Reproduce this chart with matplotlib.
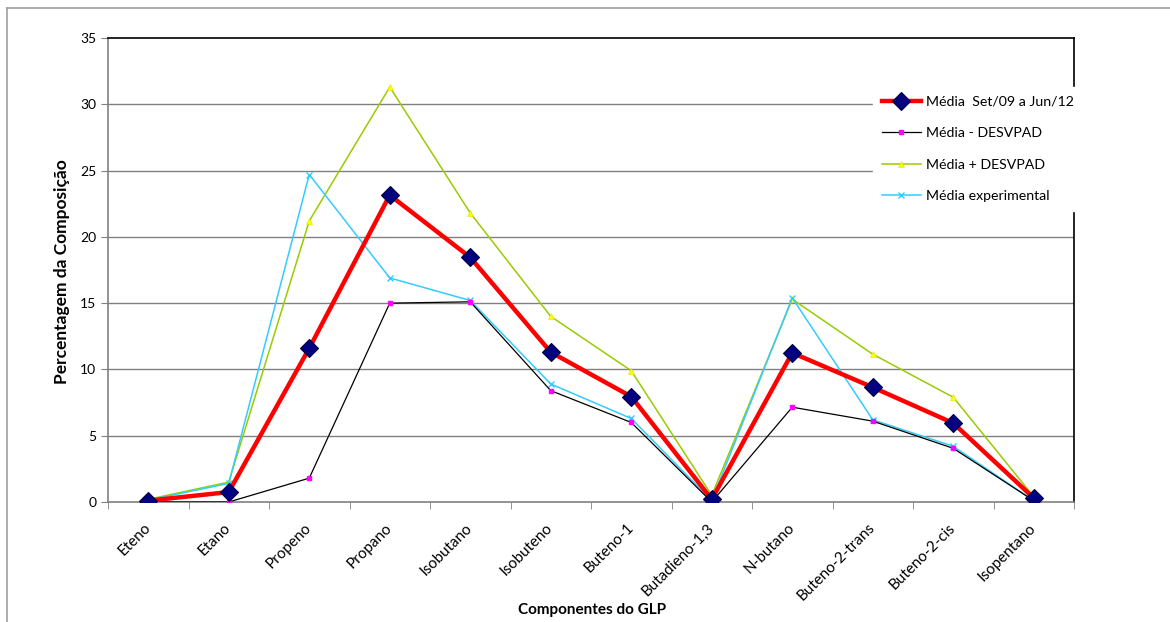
import numpy as np
import matplotlib
matplotlib.use("Agg")
import matplotlib.pyplot as plt
from matplotlib.lines import Line2D

plt.rcParams['font.family'] = ['Lato', 'DejaVu Sans']

componentes = ['Eteno', 'Etano', 'Propeno', 'Propano', 'Isobutano', 'Isobuteno',
               'Buteno-1', 'Butadieno-1,3', 'N-butano', 'Buteno-2-trans',
               'Buteno-2-cis', 'Isopentano']

media = [0.1, 0.75, 11.6, 23.15, 18.45, 11.3, 7.95, 0.2, 11.25, 8.65, 5.95, 0.3]
media_menos = [0.0, 0.0, 1.8, 15.0, 15.1, 8.4, 6.0, 0.0, 7.15, 6.1, 4.05, 0.1]
media_mais = [0.2, 1.5, 21.2, 31.3, 21.8, 14.0, 9.9, 0.5, 15.3, 11.15, 7.9, 0.4]
media_exp = [0.15, 1.4, 24.7, 16.9, 15.2, 8.9, 6.3, 0.1, 15.4, 6.2, 4.2, 0.1]

fig = plt.figure(figsize=(11.7, 6.22), dpi=100)
ax = fig.add_axes([108/1170, 1-502/622, (1074-108)/1170, (502-38)/622])

x = np.arange(len(componentes))

ax.plot(x, media, color='#ff0000', lw=3.2, marker='D', ms=9,
        mfc='#000080', mec='#000040', mew=0.8, zorder=5,
        label='Média  Set/09 a Jun/12')
ax.plot(x, media_menos, color='black', lw=0.9, marker='s', ms=3.5,
        mfc='#ff00ff', mec='#ff00ff', zorder=4, label='Média - DESVPAD')
ax.plot(x, media_mais, color='#99cc00', lw=1.1, marker='^', ms=5,
        mfc='#ffff00', mec='#e0e000', mew=0.4, zorder=3, label='Média + DESVPAD')
ax.plot(x, media_exp, color='#33ccff', lw=1.1, marker='x', ms=4,
        mec='#33ccff', mew=1.0, zorder=3, label='Média experimental')

ax.set_xlim(-0.5, len(componentes) - 0.5)
ax.set_ylim(0, 35)
ax.set_yticks(range(0, 36, 5))
for v in range(5, 35, 5):
    ax.axhline(v, color='#808080', lw=1, zorder=1)

ax.set_xticks(x)
ax.set_xticklabels(componentes, rotation=45, ha='right', va='center',
                   rotation_mode='anchor', fontsize=11)
ax.set_xticks(np.arange(-0.5, len(componentes), 1), minor=True)
ax.tick_params(axis='x', which='major', length=0, pad=17)
ax.tick_params(axis='x', which='minor', length=5, color='#808080', direction='out')
ax.tick_params(axis='y', length=5, color='#808080', direction='out', labelsize=10)

for s in ['left', 'bottom']:
    ax.spines[s].set_color('#808080')
    ax.spines[s].set_linewidth(1.2)
for s in ['top', 'right']:
    ax.spines[s].set_color('black')
    ax.spines[s].set_linewidth(1.2)

ax.set_xlabel('Componentes do GLP', fontsize=11, fontweight='bold')
ax.xaxis.set_label_coords((592-108)/966, -(603-502)/464)
ax.set_ylabel('Percentagem da Composição', fontsize=12.5, fontweight='bold')
ax.yaxis.set_label_coords(-(108-70)/966, (502-272)/464)

leg = fig.legend(loc='upper left', bbox_to_anchor=(866/1170, 1-80/622),
                 frameon=True, fancybox=False, facecolor='white',
                 edgecolor='white', framealpha=1, fontsize=10.2,
                 handlelength=2.8, labelspacing=1.38, borderpad=0.6,
                 handletextpad=0.3)
leg.set_zorder(10)

# moldura do gráfico
fig.add_artist(Line2D([7/1170, 7/1170], [0, 1-8/622], color='#a0a0a0', lw=1.2))
fig.add_artist(Line2D([7/1170, 1], [1-8/622, 1-8/622], color='#a0a0a0', lw=1.2))

fig.savefig('out.png', dpi=100)
